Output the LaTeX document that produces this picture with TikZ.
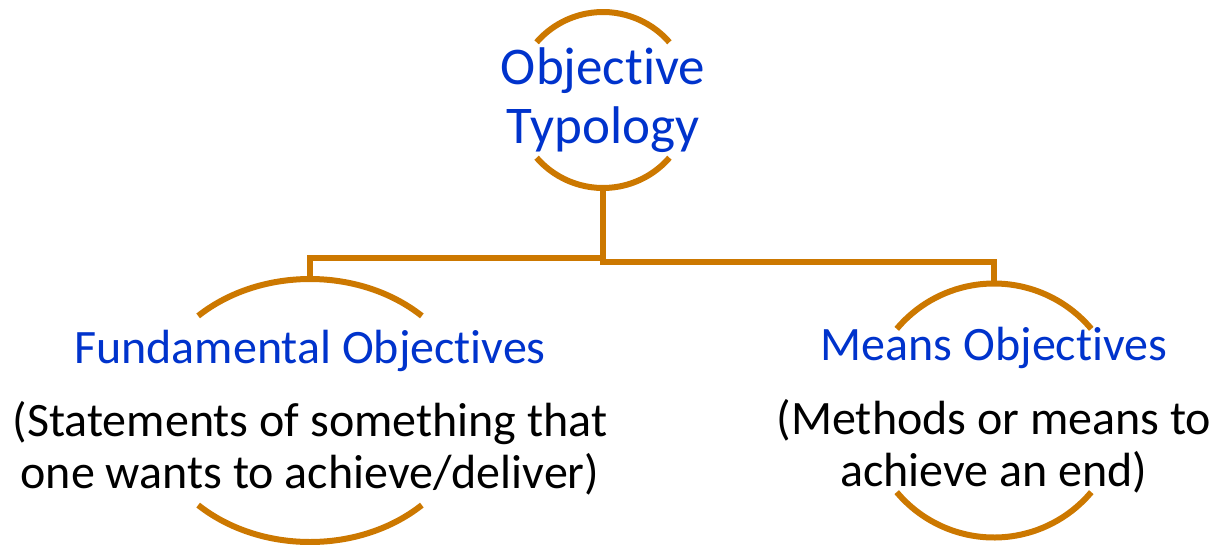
\documentclass[tikz,border=0pt]{standalone}
\usepackage{fontspec}
\setmainfont{Carlito}[Ligatures=NoCommon]
\definecolor{arcorange}{RGB}{204,120,0}
\definecolor{titleblue}{RGB}{0,51,204}
\begin{document}
\begin{tikzpicture}[x=1pt,y=-1pt,
  arcline/.style={draw=arcorange,line width=6pt},
  conn/.style={draw=arcorange,line width=5.5pt},
  ttl/.style={text=titleblue,font=\fontsize{48}{58}\selectfont,align=center,anchor=base,inner sep=0pt},
  desc/.style={text=black,font=\fontsize{48}{52}\selectfont,align=center,anchor=base,inner sep=0pt}]
\useasboundingbox (0,0) rectangle (1213,544);
% centres of the circles
\coordinate (ctop) at (603,100);
\coordinate (cleft) at (310,410.5);
\coordinate (cright) at (994,410.5);
% arcs
\draw[arcline] ([shift={(41:88pt)}]ctop) arc[start angle=41,end angle=139,radius=88pt];
\draw[arcline] ([shift={(221:88pt)}]ctop) arc[start angle=221,end angle=319,radius=88pt];
\draw[arcline] ([shift={(46:161pt and 131.5pt)}]cleft) arc[start angle=46,end angle=134,x radius=161pt,y radius=131.5pt];
\draw[arcline] ([shift={(226:161pt and 131.5pt)}]cleft) arc[start angle=226,end angle=314,x radius=161pt,y radius=131.5pt];
\draw[arcline] ([shift={(40:127pt)}]cright) arc[start angle=40,end angle=140,radius=127pt];
\draw[arcline] ([shift={(220:127pt)}]cright) arc[start angle=220,end angle=320,radius=127pt];
% connector ends
\coordinate (topb) at (603,188);
\coordinate (lj) at (310,258);
\coordinate (rj) at (994,262);
\coordinate (leftt) at (310,279);
\coordinate (rightt) at (994,283);
\draw[conn] (topb) |- (lj) -- (leftt);
\draw[conn] (topb) |- (rj) -- (rightt);
% texts (base anchor = baseline of the last line)
\node[ttl,font=\fontsize{53}{59}\selectfont] (obj) at (603,143) {Objective\\Typology};
\node[ttl] (fund) at (310,363) {Fundamental Objectives};
\node[desc] (funddesc) at (310,488) {(Statements of something that\\one wants to achieve/deliver)};
\node[ttl] (means) at (994,360) {Means Objectives};
\node[desc] (meansdesc) at (994,486) {(Methods or means to\\achieve an end)};
\end{tikzpicture}
\end{document}
